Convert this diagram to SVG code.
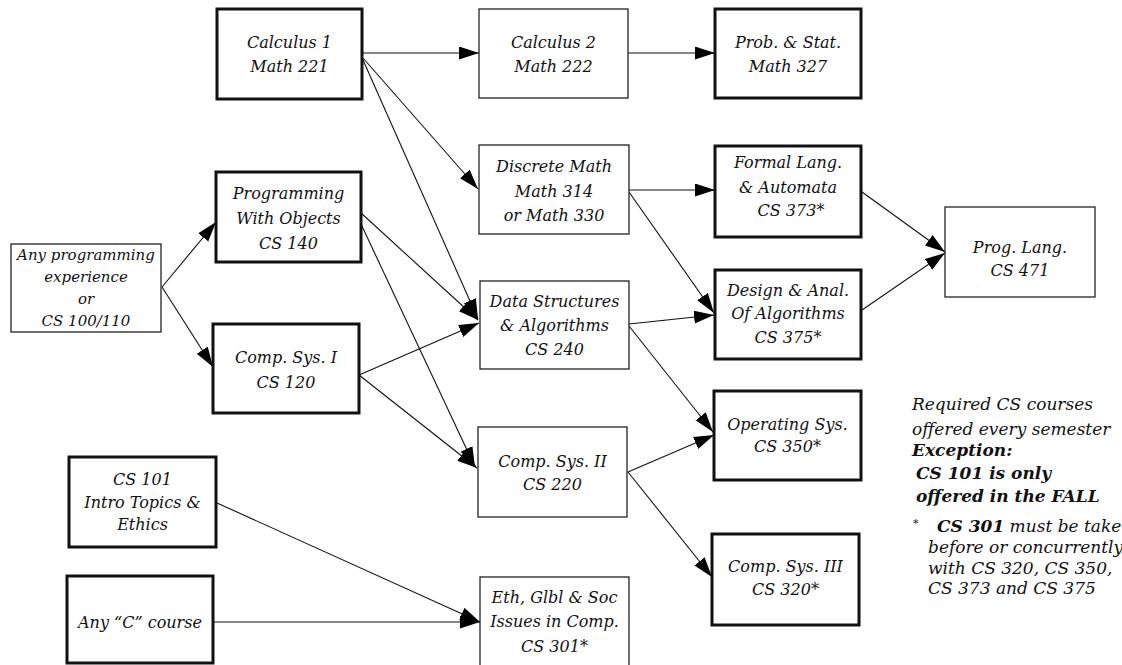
<svg xmlns="http://www.w3.org/2000/svg" width="1122" height="665" viewBox="0 0 1122 665">
<style>
.thick{fill:#fff;stroke:#111;stroke-width:3}
.thin{fill:#fff;stroke:#222;stroke-width:1.3}
text{font-family:"DejaVu Serif",serif;font-style:italic;font-size:16px;fill:#111}
.c{text-anchor:middle}
.b{font-weight:bold}
.n{font-size:17px}
.edge{stroke:#111;stroke-width:1.1;fill:none;marker-end:url(#ah)}
</style>
<defs>
<marker id="ah" markerUnits="userSpaceOnUse" markerWidth="20" markerHeight="14" refX="20" refY="6.5" orient="auto">
<path d="M0,0 L20,6.5 L0,13 z" fill="#000"/>
</marker>
</defs>
<rect width="1122" height="665" fill="#fff"/>
<g id="connectors">
<line class="edge" x1="362" y1="53" x2="479" y2="53"/>
<line class="edge" x1="628" y1="53" x2="715" y2="53"/>
<line class="edge" x1="363" y1="58" x2="478" y2="189"/>
<line class="edge" x1="363" y1="60" x2="478" y2="319"/>
<line class="edge" x1="361" y1="213" x2="478" y2="320"/>
<line class="edge" x1="361" y1="224" x2="475" y2="467"/>
<line class="edge" x1="162" y1="287" x2="216" y2="222"/>
<line class="edge" x1="162" y1="287" x2="213" y2="367"/>
<line class="edge" x1="359" y1="375" x2="479" y2="323"/>
<line class="edge" x1="359" y1="375" x2="477" y2="468"/>
<line class="edge" x1="629" y1="190" x2="715" y2="190"/>
<line class="edge" x1="629" y1="192" x2="714" y2="313"/>
<line class="edge" x1="629" y1="324" x2="714" y2="315"/>
<line class="edge" x1="629" y1="326" x2="713" y2="432"/>
<line class="edge" x1="628" y1="472" x2="714" y2="435"/>
<line class="edge" x1="628" y1="472" x2="712" y2="577"/>
<line class="edge" x1="862" y1="192" x2="945" y2="252"/>
<line class="edge" x1="862" y1="310" x2="945" y2="253"/>
<line class="edge" x1="217" y1="503" x2="480" y2="622"/>
<line class="edge" x1="213" y1="622" x2="480" y2="622"/>
</g>
<g id="calc1"><rect class="thick" x="217" y="9" width="145" height="90"/><text class="c" x="289.5" y="48">Calculus 1</text><text class="c" x="289.5" y="72">Math 221</text></g>
<g id="prog-objects"><rect class="thick" x="216" y="172" width="145" height="90"/><text class="c" x="288.5" y="199">Programming</text><text class="c" x="288.5" y="224">With Objects</text><text class="c" x="288.5" y="249">CS 140</text></g>
<g id="any-prog"><rect class="thin" x="11" y="244" width="150" height="88"/><text class="c" x="86" y="260" style="font-size:15px">Any programming</text><text class="c" x="86" y="282" style="font-size:15px">experience</text><text class="c" x="86" y="304" style="font-size:15px">or</text><text class="c" x="86" y="326" style="font-size:15px">CS 100/110</text></g>
<g id="compsys1"><rect class="thick" x="213" y="324" width="146" height="89"/><text class="c" x="286" y="363">Comp. Sys. I</text><text class="c" x="286" y="388">CS 120</text></g>
<g id="calc2"><rect class="thin" x="479" y="9" width="149" height="89"/><text class="c" x="553.5" y="48">Calculus 2</text><text class="c" x="553.5" y="72">Math 222</text></g>
<g id="probstat"><rect class="thick" x="715" y="9" width="146" height="89"/><text class="c" x="788" y="48">Prob. &amp; Stat.</text><text class="c" x="788" y="72">Math 327</text></g>
<g id="discrete"><rect class="thin" x="479" y="145" width="150" height="89"/><text class="c" x="554" y="172">Discrete Math</text><text class="c" x="554" y="197">Math 314</text><text class="c" x="554" y="221">or Math 330</text></g>
<g id="formal"><rect class="thick" x="715" y="146" width="146" height="91"/><text class="c" x="788" y="168">Formal Lang.</text><text class="c" x="788" y="193">&amp; Automata</text><text class="c" x="791" y="216">CS 373*</text></g>
<g id="design"><rect class="thick" x="715" y="270" width="146" height="89"/><text class="c" x="788" y="296">Design &amp; Anal.</text><text class="c" x="788" y="319">Of Algorithms</text><text class="c" x="788" y="343">CS 375*</text></g>
<g id="datastruct"><rect class="thin" x="480" y="281" width="149" height="88"/><text class="c" x="554.5" y="307">Data Structures</text><text class="c" x="554.5" y="331">&amp; Algorithms</text><text class="c" x="554.5" y="355">CS 240</text></g>
<g id="compsys2"><rect class="thin" x="478" y="427" width="149" height="90"/><text class="c" x="552.5" y="467">Comp. Sys. II</text><text class="c" x="552.5" y="490">CS 220</text></g>
<g id="opsys"><rect class="thick" x="714" y="391" width="147" height="89"/><text class="c" x="787.5" y="430">Operating Sys.</text><text class="c" x="787.5" y="452">CS 350*</text></g>
<g id="compsys3"><rect class="thick" x="712" y="534" width="147" height="91"/><text class="c" x="785.5" y="572">Comp. Sys. III</text><text class="c" x="785.5" y="595">CS 320*</text></g>
<g id="proglang"><rect class="thin" x="945" y="207" width="150" height="90"/><text class="c" x="1020" y="253">Prog. Lang.</text><text class="c" x="1020" y="276">CS 471</text></g>
<g id="cs101"><rect class="thick" x="69" y="457" width="147" height="90"/><text class="c" x="142.5" y="485">CS 101</text><text class="c" x="142.5" y="508">Intro Topics &amp;</text><text class="c" x="142.5" y="530">Ethics</text></g>
<g id="anyc"><rect class="thick" x="67" y="576" width="146" height="87"/><text class="c" x="140" y="628">Any “C” course</text></g>
<g id="eth"><rect class="thin" x="480" y="577" width="149" height="92"/><text class="c" x="554.5" y="603">Eth, Glbl &amp; Soc</text><text class="c" x="554.5" y="627">Issues in Comp.</text><text class="c" x="554.5" y="652">CS 301*</text></g>
<g id="notes">
<text class="n" x="912" y="410">Required CS courses</text>
<text class="n" x="912" y="435">offered every semester</text>
<text class="n b" x="912" y="456">Exception:</text>
<text class="n b" x="916" y="479">CS 101 is only</text>
<text class="n b" x="916" y="502">offered in the FALL</text>
<text x="913" y="527" style="font-size:11px">*</text>
<text class="n" x="937" y="532"><tspan class="b">CS 301</tspan> must be take</text>
<text class="n" x="928" y="553">before or concurrently</text>
<text class="n" x="928" y="574">with CS 320, CS 350,</text>
<text class="n" x="928" y="594">CS 373 and CS 375</text>
</g>
</svg>
